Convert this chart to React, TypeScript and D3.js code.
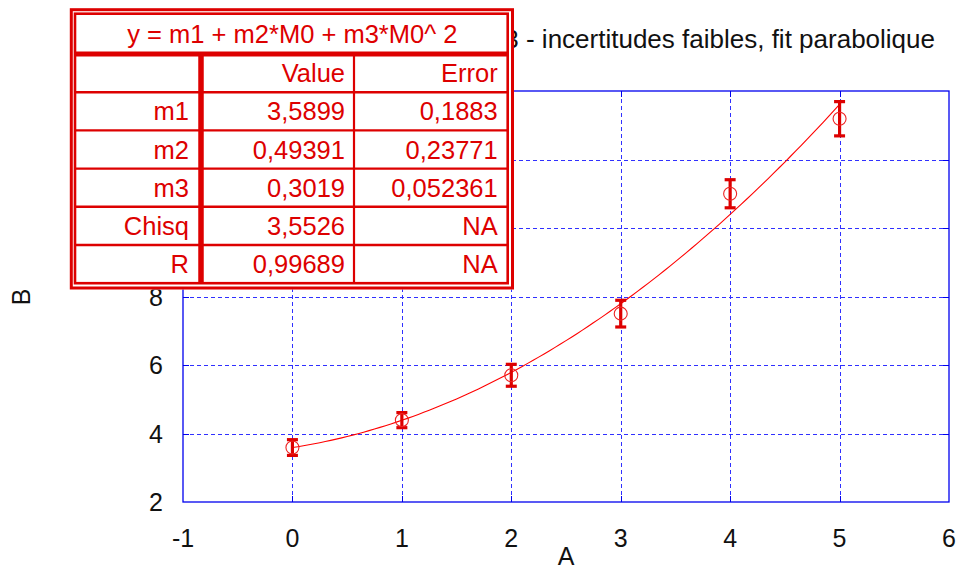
import * as React from 'react';
import * as d3 from 'd3';

// measured points (A, B, uncertainty on B)
const xValues = [0, 1, 2, 3, 4, 5];
const yValues = [3.59, 4.39, 5.7, 7.5, 11.0, 13.19];
const yErrors = [0.23, 0.22, 0.32, 0.39, 0.41, 0.5];

const xTicks = [-1, 0, 1, 2, 3, 4, 5, 6];
const yTicks = [2, 4, 6, 8, 10, 12, 14];

// fit results shown in the box
const fitFormula = 'y = m1 + m2*M0 + m3*M0^ 2';
const fitParams = ['m1', 'm2', 'm3', 'Chisq', 'R'];
const fitValues = ['3,5899', '0,49391', '0,3019', '3,5526', '0,99689'];
const fitErrors = ['0,1883', '0,23771', '0,052361', 'NA', 'NA'];
const coeffs = [3.5899, 0.49391, 0.3019];

const title = '3 - incertitudes faibles, fit parabolique';

const W = 958;
const H = 571;
const FONT = '"Liberation Sans", Arial, sans-serif';
const RED = '#dd0000';
const BLUE = '#0000ee';
const GRID = '#3030ff';

const App: React.FC = () => {
  const margin = { top: 91, right: 9, bottom: 69, left: 183 };
  const x = d3.scaleLinear().domain([-1, 6]).range([margin.left, W - margin.right]);
  const y = d3.scaleLinear().domain([2, 14]).range([H - margin.bottom, margin.top]);

  const fitX = d3.range(0, 5.0001, 0.05);
  const fitLine = d3.line<number>()
    .x(d => x(d))
    .y(d => y(coeffs[0] + coeffs[1] * d + coeffs[2] * d * d));

  const [x0, x1] = x.range();
  const [y0, y1] = y.range();
  const px = (v: number) => Math.round(v) + 0.5; // crisp 1px lines

  // table layout
  const tX0 = 75, tX1 = 507.7, tY0 = 13.7, headBottom = 54, rowH = 38.2;
  const col1 = 201, col2 = 354;
  const rows = fitParams.length + 1;
  const tY1 = headBottom + rows * rowH;
  const boxBottom = 289.5;

  return (
    <svg width={W} height={H} style={{ position: 'absolute', left: 0, top: 0, background: '#fff' }} fontFamily={FONT}>
      <rect width={W} height={H} fill="#fff" />

      {/* grid */}
      <g stroke={GRID} strokeWidth={1} strokeDasharray="4,3" shapeRendering="crispEdges">
        {xTicks.slice(1, -1).map(t => (
          <line key={'gx' + t} x1={px(x(t))} x2={px(x(t))} y1={y0} y2={y1} />
        ))}
        {yTicks.slice(1, -1).map(t => (
          <line key={'gy' + t} x1={x0} x2={x1} y1={px(y(t))} y2={px(y(t))} />
        ))}
      </g>

      {/* inward ticks */}
      <g stroke={BLUE} strokeWidth={1} shapeRendering="crispEdges">
        {xTicks.slice(1, -1).map(t => (
          <g key={'tx' + t}>
            <line x1={px(x(t))} x2={px(x(t))} y1={y0} y2={y0 - 6} />
            <line x1={px(x(t))} x2={px(x(t))} y1={y1} y2={y1 + 6} />
          </g>
        ))}
        {yTicks.slice(1, -1).map(t => (
          <g key={'ty' + t}>
            <line x1={x0} x2={x0 + 6} y1={px(y(t))} y2={px(y(t))} />
            <line x1={x1} x2={x1 - 6} y1={px(y(t))} y2={px(y(t))} />
          </g>
        ))}
      </g>

      {/* frame */}
      <rect x={x0} y={y1} width={x1 - x0} height={y0 - y1} fill="none" stroke={BLUE} strokeWidth={1.3} />

      {/* tick labels (the ones under the fit box are hidden by it) */}
      <g fontSize={25} fill="#111">
        {xTicks.map(t => (
          <text key={'lx' + t} x={x(t)} y={y0 + 45} textAnchor="middle">{t}</text>
        ))}
        {yTicks.filter(t => y(t) > boxBottom).map(t => (
          <text key={'ly' + t} x={x0 - 20} y={y(t)} dy="0.36em" textAnchor="end">{t}</text>
        ))}
      </g>

      {/* axis titles */}
      <text x={566} y={565} fontSize={25} textAnchor="middle" fill="#111">A</text>
      <text transform="translate(30,297) rotate(-90)" fontSize={25} textAnchor="middle" fill="#111">B</text>
      <text x={935} y={48} fontSize={26} textAnchor="end" fill="#111">{title}</text>

      {/* fit curve */}
      <path d={fitLine(fitX) || undefined} fill="none" stroke="#ff0000" strokeWidth={1.1} />

      {/* data points with error bars */}
      <g>
        {xValues.map((xv, i) => {
          const cx = x(xv);
          const yt = y(yValues[i] + yErrors[i]);
          const yb = y(yValues[i] - yErrors[i]);
          return (
            <g key={'p' + i}>
              <g stroke={RED} strokeWidth={3.2}>
                <line x1={cx} x2={cx} y1={yt} y2={yb} />
                <line x1={cx - 5.5} x2={cx + 5.5} y1={yt} y2={yt} />
                <line x1={cx - 5.5} x2={cx + 5.5} y1={yb} y2={yb} />
              </g>
              <circle cx={cx} cy={y(yValues[i])} r={6.5} fill="none" stroke="#ee2222" strokeWidth={1.1} />
            </g>
          );
        })}
      </g>

      {/* fit results table */}
      <g>
        <rect x={69.8} y={8.2} width={444.2} height={boxBottom - 8.2} fill="#fff" />
        <rect x={71.3} y={9.7} width={441.2} height={278.3} fill="none" stroke={RED} strokeWidth={3} />
        <rect x={tX0} y={tY0} width={tX1 - tX0} height={tY1 - tY0} fill="none" stroke={RED} strokeWidth={2.6} />
        <line x1={tX0} x2={tX1} y1={headBottom} y2={headBottom} stroke={RED} strokeWidth={5} />
        {d3.range(1, rows).map(r => (
          <line key={'rl' + r} x1={tX0} x2={tX1} y1={headBottom + r * rowH} y2={headBottom + r * rowH} stroke={RED} strokeWidth={2.4} />
        ))}
        <line x1={col1} x2={col1} y1={headBottom} y2={tY1} stroke={RED} strokeWidth={5.5} />
        <line x1={col2} x2={col2} y1={headBottom} y2={tY1} stroke={RED} strokeWidth={2.2} />

        <g fontSize={25.5} fill={RED}>
          <text x={(tX0 + tX1) / 2 + 1} y={(tY0 + headBottom) / 2} dy="0.36em" textAnchor="middle">{fitFormula}</text>
          <text x={col2 - 9} y={headBottom + rowH / 2} dy="0.36em" textAnchor="end">Value</text>
          <text x={tX1 - 10} y={headBottom + rowH / 2} dy="0.36em" textAnchor="end">Error</text>
          {fitParams.map((p, i) => {
            const cy = headBottom + (i + 1.5) * rowH;
            return (
              <g key={'row' + p}>
                <text x={col1 - 12} y={cy} dy="0.36em" textAnchor="end">{p}</text>
                <text x={col2 - 9} y={cy} dy="0.36em" textAnchor="end">{fitValues[i]}</text>
                <text x={tX1 - 10} y={cy} dy="0.36em" textAnchor="end">{fitErrors[i]}</text>
              </g>
            );
          })}
        </g>
      </g>
    </svg>
  );
};

export default App;
